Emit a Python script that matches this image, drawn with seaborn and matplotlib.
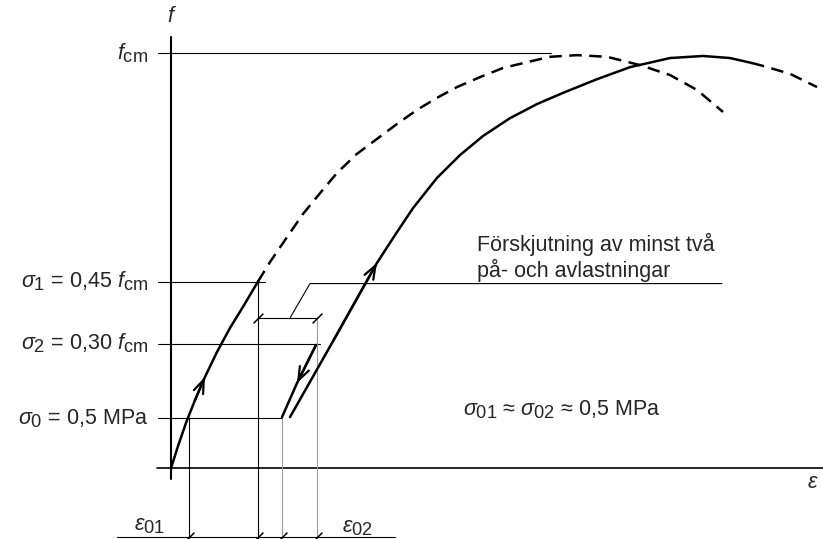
import matplotlib
matplotlib.use("Agg")
import matplotlib.pyplot as plt
import matplotlib._mathtext as mathtext_internal
import seaborn as sns

# Schematic: strain in arbitrary units, stress as a fraction of f_cm
eps_load1 = [0.00, 0.07, 0.15, 0.24, 0.34, 0.46, 0.59, 0.73, 0.87]
f_load1 = [0.000, 0.053, 0.109, 0.164, 0.220, 0.280, 0.338, 0.393, 0.450]

eps_env1 = [0.87, 0.99, 1.16, 1.32, 1.49, 1.66, 1.86, 2.06, 2.26, 2.46, 2.66,
            2.86, 3.09, 3.32, 3.56, 3.79, 4.06, 4.36, 4.69, 4.99, 5.26, 5.52]
f_env1 = [0.450, 0.497, 0.557, 0.613, 0.663, 0.712, 0.758, 0.794, 0.830, 0.864,
          0.893, 0.919, 0.943, 0.965, 0.979, 0.992, 0.996, 0.992, 0.972, 0.948,
          0.912, 0.859]

eps_unload = [1.45, 1.26, 1.11]
f_unload = [0.297, 0.205, 0.123]

eps_load2 = [1.19, 1.62, 2.06, 2.24, 2.42, 2.66, 2.89, 3.12, 3.39, 3.66, 3.92,
             4.26, 4.59, 4.99, 5.32, 5.59, 5.81]
f_load2 = [0.123, 0.306, 0.495, 0.562, 0.627, 0.700, 0.755, 0.801, 0.844, 0.878,
           0.905, 0.938, 0.967, 0.989, 0.994, 0.989, 0.977]

eps_env2 = [5.81, 5.92, 6.19, 6.46]
f_env2 = [0.977, 0.970, 0.951, 0.919]

# stress levels: f_cm, sigma_1, sigma_2, sigma_0
stress_levels = [1.0, 0.45, 0.30, 0.12]
level_ends = [3.80, 0.94, 1.49, 1.11]
level_labels = [r"$f_{\mathrm{cm}}$",
                r"$\sigma_1$ = 0,45 $f_{\mathrm{cm}}$",
                r"$\sigma_2$ = 0,30 $f_{\mathrm{cm}}$",
                r"$\sigma_0$ = 0,5 MPa"]

# strain marks: eps01 start/end, eps02 start/end
strain_marks = [0.18, 0.87, 1.11, 1.46]
strain_tops = [0.12, 0.45, 0.12, 0.362]
shift_level = 0.362
dim_level = -0.166

sns.set_theme(style="white")
plt.rcParams["font.family"] = ["Liberation Sans", "DejaVu Sans"]
plt.rcParams["mathtext.fontset"] = "custom"
plt.rcParams["mathtext.rm"] = "Liberation Sans"
plt.rcParams["mathtext.it"] = "Liberation Sans:italic"
plt.rcParams["mathtext.bf"] = "Liberation Sans:bold"
# the drawing uses nearly full size subscripts
mathtext_internal.SHRINK_FACTOR = 0.85

fs = 15.5

fig = plt.figure(figsize=(8.23, 5.39), dpi=100)
ax = fig.add_axes([0, 0, 1, 1])
ax.set_xlim(-1.71, 6.52)
ax.set_ylim(-0.171, 1.129)
ax.axis("off")

k = "black"
thin = 0.8
thick = 1.8

# axes of the diagram
ax.plot([0, 0], [-0.027, 1.04], color=k, lw=1.5)
ax.plot([-0.14, 6.52], [0, 0], color=k, lw=1.2)

# stress level lines and labels
for lev, end, lab in zip(stress_levels, level_ends, level_labels):
    ax.plot([-0.13, end], [lev, lev], color=k, lw=thin)
    ax.text(-0.23, lev - 0.014, lab, ha="right", va="baseline", fontsize=fs)

# vertical strain marks
for i, (x, top) in enumerate(zip(strain_marks, strain_tops)):
    col = k if i < 2 else "#9a9a9a"
    ax.plot([x, x], [-0.171, top], color=col, lw=thin)

# bottom dimension line with slashes
slash = [(-1, -1), (1, 1)]
ax.plot([-0.54, 2.24], [dim_level, dim_level], color=k, lw=thin)
ax.plot(strain_marks, [dim_level] * 4, ls="none", marker=slash, ms=7, mew=1.1, color=k)

# shift bracket and leader
ax.plot([strain_marks[1], strain_marks[3]], [shift_level, shift_level], color=k, lw=thin)
ax.plot([strain_marks[1], strain_marks[3]], [shift_level, shift_level], ls="none",
        marker=slash, ms=7, mew=1.1, color=k)
ax.plot([1.19, 1.39, 5.51], [shift_level, 0.445, 0.445], color=k, lw=thin)

# curves
dash = (0, (5, 3))
sns.lineplot(x=eps_load1, y=f_load1, ax=ax, color=k, lw=thick, sort=False, estimator=None)
sns.lineplot(x=eps_env1, y=f_env1, ax=ax, color=k, lw=thick, sort=False, estimator=None,
             linestyle=dash)
sns.lineplot(x=eps_unload, y=f_unload, ax=ax, color=k, lw=thick, sort=False, estimator=None)
sns.lineplot(x=eps_load2, y=f_load2, ax=ax, color=k, lw=thick, sort=False, estimator=None)
sns.lineplot(x=eps_env2, y=f_env2, ax=ax, color=k, lw=thick, sort=False, estimator=None,
             linestyle=dash)

# direction arrows
arrow = dict(arrowstyle="->,head_length=0.8,head_width=0.3", lw=1.6, color=k,
             shrinkA=0, shrinkB=0)
ax.annotate("", xy=(eps_load1[4], f_load1[4]), xytext=(eps_load1[3], f_load1[3]), arrowprops=arrow)
ax.annotate("", xy=(eps_unload[1], f_unload[1]), xytext=(eps_unload[0], f_unload[0]), arrowprops=arrow)
ax.annotate("", xy=(eps_load2[2], f_load2[2]), xytext=(eps_load2[1], f_load2[1]), arrowprops=arrow)

# texts
ax.text(0.01, 1.088, r"$f$", ha="center", va="center", fontsize=fs)
ax.text(6.36, -0.035, r"$\varepsilon$", ha="left", va="center", fontsize=fs)
ax.text(3.06, 0.461, "Förskjutning av minst två\npå- och avlastningar",
        ha="left", va="baseline", fontsize=fs, linespacing=1.15)
ax.text(2.92, 0.128, r"$\sigma_{01}$ ≈ $\sigma_{02}$ ≈ 0,5 MPa",
        ha="left", va="baseline", fontsize=fs)
ax.text(-0.22, -0.150, r"$\varepsilon_{01}$", ha="center", va="baseline", fontsize=fs)
ax.text(1.86, -0.156, r"$\varepsilon_{02}$", ha="center", va="baseline", fontsize=fs)

fig.savefig("out.png", dpi=100)
